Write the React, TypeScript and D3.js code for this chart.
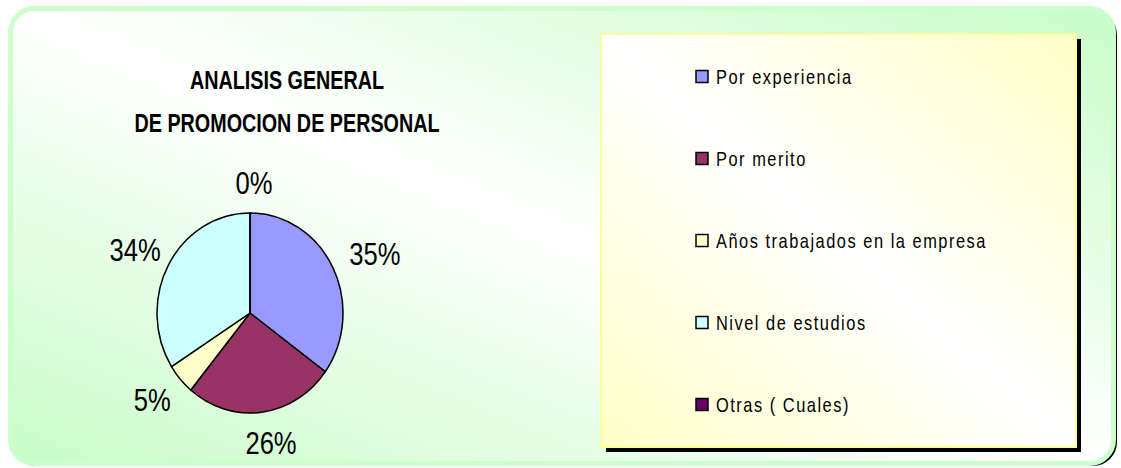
import React from 'react';
import * as d3 from 'd3';

// data
const categories = [
  'Por experiencia',
  'Por merito',
  'Años trabajados en la empresa',
  'Nivel de estudios',
  'Otras ( Cuales)',
];
const values = [35, 26, 5, 34, 0];
const sliceColors = ['#9999ff', '#993366', '#ffffcc', '#ccffff', '#660066'];
const titleLines = ['ANALISIS GENERAL', 'DE PROMOCION DE PERSONAL'];

const W = 1121;
const H = 468;
// no Arial Narrow here: squeeze Liberation Sans horizontally instead
const font = "'Liberation Sans', Arial, sans-serif";

const NarrowText = ({ x, y, size, squeeze = 0.8, bold = false, anchor = 'start', spacing = 0, dy = '0', children }: any) => (
  <text transform={`translate(${x},${y}) scale(${squeeze},1)`} dy={dy} textAnchor={anchor}
    fontFamily={font} fontWeight={bold ? 'bold' : 'normal'} fontSize={size}
    letterSpacing={spacing} fill="#000">
    {children}
  </text>
);

const App = () => {
  // pie geometry (slightly squeezed horizontally, like the original)
  const cx = 250;
  const cy = 313;
  const r = 100;
  const sx = 0.93;

  const pie = d3.pie<number>().sort(null).value(d => d);
  const arcs = pie(values);
  const arc = d3.arc<d3.PieArcDatum<number>>().innerRadius(0).outerRadius(r);

  const total = d3.sum(values);
  const fmt = d3.format('.0%');

  // legend rows
  const legendY = d3.scalePoint<string>().domain(categories).range([77, 405]);

  const labelGap = 18;
  const halfW = 26;
  const halfH = 13;

  return (
    <div style={{ position: 'absolute', left: 0, top: 0 }}>
      <svg width={W} height={H} style={{ display: 'block' }}>
        <defs>
          <linearGradient id="bgGrad" x1="0" y1="1" x2="1" y2="0">
            <stop offset="0" stopColor="#c8fcc8" />
            <stop offset="0.5" stopColor="#ffffff" />
            <stop offset="1" stopColor="#c8fcc8" />
          </linearGradient>
          <linearGradient id="legGrad" x1="0" y1="1" x2="1" y2="0">
            <stop offset="0" stopColor="#ffffc8" />
            <stop offset="0.5" stopColor="#ffffff" />
            <stop offset="1" stopColor="#ffffc8" />
          </linearGradient>
        </defs>

        {/* outer frame with shadow */}
        <rect x={13} y={11} width={1104} height={455} rx={24} fill="#000" />
        <rect x={10.5} y={8.5} width={1103} height={455} rx={24}
          fill="url(#bgGrad)" stroke="#ccffcc" strokeWidth={5} />

        {/* title */}
        {titleLines.map((t, i) => (
          <NarrowText key={t} x={287} y={89 + i * 43} size={26} squeeze={0.76} bold anchor="middle">
            {t}
          </NarrowText>
        ))}

        {/* pie */}
        <g transform={`translate(${cx},${cy}) scale(${sx},1)`}>
          {arcs.map((a, i) => (
            <path key={i} d={arc(a) || ''} fill={sliceColors[i]}
              stroke="#000" strokeWidth={1.5} vectorEffect="non-scaling-stroke" />
          ))}
        </g>

        {/* percentage labels */}
        {arcs.map((a, i) => {
          const th = (a.startAngle + a.endAngle) / 2;
          const s = Math.sin(th);
          const c = Math.cos(th);
          const px = cx + 4 + (r + labelGap) * s * sx + halfW * s;
          const py = cy - (r + labelGap) * c - halfH * c;
          return (
            <NarrowText key={i} x={px} y={py} dy="0.36em" size={32} squeeze={0.8} anchor="middle">
              {fmt(values[i] / total)}
            </NarrowText>
          );
        })}

        {/* legend box */}
        <rect x={606} y={39} width={475} height={413} fill="#000" />
        <rect x={601} y={34} width={475} height={413}
          fill="url(#legGrad)" stroke="#ffff99" strokeWidth={2} />
        {categories.map((name, i) => {
          const y = legendY(name) ?? 0;
          return (
            <g key={name}>
              <rect x={696} y={y - 6.5} width={12} height={12}
                fill={sliceColors[i]} stroke="#000" strokeWidth={1.5} />
              <NarrowText x={716} y={y} dy="0.36em" size={20.5} squeeze={0.8} spacing={1.9}>
                {name}
              </NarrowText>
            </g>
          );
        })}
      </svg>
    </div>
  );
};

export default App;
